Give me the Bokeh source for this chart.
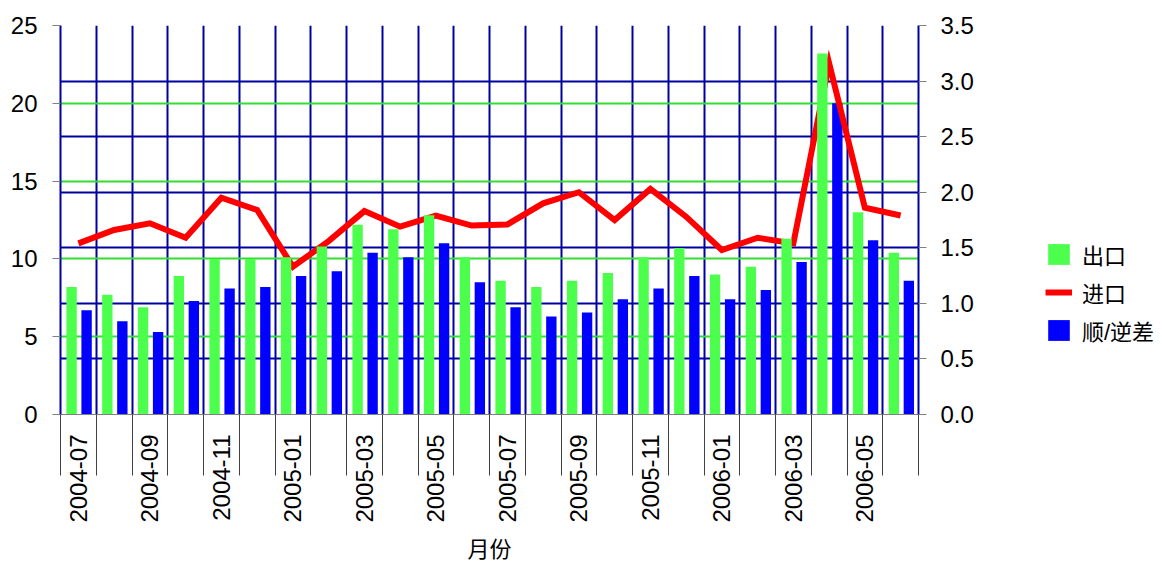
import numpy as np
from bokeh.plotting import figure
from bokeh.layouts import row
from bokeh.models import (Range1d, LinearAxis, FixedTicker, Grid, Legend, LegendItem,
                          NumeralTickFormatter)
from bokeh.embed import file_html
from bokeh.resources import INLINE

# ---------------- data ----------------
months = ["2004-07", "2004-08", "2004-09", "2004-10", "2004-11", "2004-12",
          "2005-01", "2005-02", "2005-03", "2005-04", "2005-05", "2005-06",
          "2005-07", "2005-08", "2005-09", "2005-10", "2005-11", "2005-12",
          "2006-01", "2006-02", "2006-03", "2006-04", "2006-05", "2006-06"]
exports = [8.2, 7.7, 6.9, 8.9, 10.0, 10.0, 10.1, 10.8, 12.2, 11.9, 12.8, 10.1,
           8.6, 8.2, 8.6, 9.1, 10.1, 10.7, 9.0, 9.5, 11.3, 23.2, 13.0, 10.4]
balance = [6.7, 6.0, 5.3, 7.3, 8.1, 8.2, 8.9, 9.2, 10.4, 10.1, 11.0, 8.5,
           6.9, 6.3, 6.55, 7.4, 8.1, 8.9, 7.4, 8.0, 9.8, 20.0, 11.2, 8.6]
imports = [1.54, 1.66, 1.72, 1.59, 1.95, 1.84, 1.33, 1.56, 1.83, 1.69, 1.79, 1.70,
           1.71, 1.90, 2.00, 1.75, 2.03, 1.78, 1.48, 1.59, 1.54, 3.16, 1.86, 1.79]
left_ticks = [0, 5, 10, 15, 20, 25]
right_ticks = [0.0, 0.5, 1.0, 1.5, 2.0, 2.5, 3.0, 3.5]
series_names = ["出口", "进口", "顺/逆差"]

# ---------------- geometry (each month spans 2 x-units) ----------------
n = len(months)
idx = np.arange(n)
centers = 2 * idx + 1
green_x = 2 * idx + 0.62
blue_x = 2 * idx + 1.46
bar_w = 0.58

GREEN_BAR = "#4DFF4D"
BLUE_BAR = "#0000FF"
GRID_BLUE = "#0000A0"
GRID_GREEN = "#33DD33"
RED = "#FF0000"
FONT = "Liberation Sans"
CJK_MIX = "Liberation Sans, Noto Sans CJK SC"

p = figure(width=1000, height=564, output_backend="svg", toolbar_location=None,
           x_range=Range1d(0, 2 * n), y_range=Range1d(0, 25),
           min_border_left=60, min_border_right=82, min_border_top=25,
           min_border_bottom=148)
p.extra_y_ranges = {"right": Range1d(0, 3.5)}
p.outline_line_color = None
p.background_fill_color = "white"
p.border_fill_color = "white"

# bars and line (order: blue, red line, green)
r_blue = p.vbar(x=blue_x, top=balance, width=bar_w, fill_color=BLUE_BAR, line_color=None)
r_red = p.line(x=centers, y=imports, y_range_name="right", line_color=RED,
               line_width=6, line_join="miter")
r_green = p.vbar(x=green_x, top=exports, width=bar_w, fill_color=GREEN_BAR, line_color=None)

# ---------------- x axis ----------------
label_ticks = [int(c) for c in centers[::2]]
xa = p.xaxis[0]
xa.ticker = FixedTicker(ticks=label_ticks, minor_ticks=list(range(0, 2 * n + 1, 2)))
xa.major_label_overrides = {int(c): months[i] for i, c in zip(idx[::2], centers[::2])}
xa.major_label_orientation = np.pi / 2
xa.major_label_text_font = FONT
xa.major_label_text_font_size = "24px"
xa.major_label_text_color = "black"
xa.major_label_standoff = -41
xa.major_tick_out = 0
xa.major_tick_in = 0
xa.major_tick_line_color = None
xa.minor_tick_out = 61
xa.minor_tick_in = 0
xa.minor_tick_line_color = "#404040"
xa.minor_tick_line_width = 1
xa.axis_line_color = "#808080"
xa.axis_line_width = 1
xa.axis_label = "月份"
xa.axis_label_text_font = CJK_MIX
xa.axis_label_text_font_size = "22px"
xa.axis_label_text_font_style = "normal"
xa.axis_label_text_color = "black"
xa.axis_label_standoff = 11

p.xgrid[0].grid_line_color = None
p.xgrid[0].minor_grid_line_color = GRID_BLUE
p.xgrid[0].minor_grid_line_width = 2

# ---------------- left axis ----------------
ya = p.yaxis[0]
ya.ticker = FixedTicker(ticks=left_ticks)
ya.major_label_text_font = FONT
ya.major_label_text_font_size = "24px"
ya.major_label_text_color = "black"
ya.major_label_standoff = 15
ya.major_tick_out = 8
ya.major_tick_in = 0
ya.major_tick_line_color = "#808080"
ya.minor_tick_line_color = None
ya.axis_line_color = GRID_BLUE
ya.axis_line_width = 2

p.ygrid[0].grid_line_color = GRID_GREEN
p.ygrid[0].grid_line_width = 2

# ---------------- right axis ----------------
ra = LinearAxis(y_range_name="right", ticker=FixedTicker(ticks=right_ticks),
                formatter=NumeralTickFormatter(format="0.0"))
ra.major_label_text_font = FONT
ra.major_label_text_font_size = "24px"
ra.major_label_text_color = "black"
ra.major_label_standoff = 14
ra.major_tick_out = 8
ra.major_tick_in = 0
ra.major_tick_line_color = "#808080"
ra.minor_tick_line_color = None
ra.axis_line_color = GRID_BLUE
ra.axis_line_width = 2
p.add_layout(ra, "right")

rgrid = Grid(dimension=1, y_range_name="right", ticker=FixedTicker(ticks=right_ticks[1:]),
             grid_line_color=GRID_BLUE, grid_line_width=2)
p.add_layout(rgrid)

# ---------------- legend (separate narrow figure on the right) ----------------
q = figure(width=162, height=564, output_backend="svg", toolbar_location=None,
           x_range=Range1d(0, 1), y_range=Range1d(0, 1),
           x_axis_type=None, y_axis_type=None,
           min_border_left=0, min_border_right=0, min_border_top=0, min_border_bottom=0)
q.outline_line_color = None
q.background_fill_color = "white"
q.border_fill_color = "white"
# zero-size swatch renderers: only their legend glyphs are visible
lg_green = q.vbar(x=[0.5], bottom=[0.5], top=[0.5], width=0, fill_color=GREEN_BAR,
                  line_color=None)
lg_red = q.line(x=[0.5, 0.5], y=[0.5, 0.5], line_color=RED, line_width=6)
lg_blue = q.vbar(x=[0.5], bottom=[0.5], top=[0.5], width=0, fill_color=BLUE_BAR,
                 line_color=None)

legend = Legend(items=[LegendItem(label=series_names[0], renderers=[lg_green]),
                       LegendItem(label=series_names[1], renderers=[lg_red]),
                       LegendItem(label=series_names[2], renderers=[lg_blue])],
                location=(45, 68))
legend.glyph_width = 27
legend.glyph_height = 26
legend.label_text_font = CJK_MIX
legend.label_text_font_size = "22px"
legend.label_text_color = "black"
legend.label_standoff = 10
legend.spacing = 6
legend.padding = 0
legend.margin = 0
legend.border_line_color = None
legend.background_fill_alpha = 0
q.add_layout(legend)

layout = row(p, q)
open("out.html", "w").write(file_html(layout, INLINE))
